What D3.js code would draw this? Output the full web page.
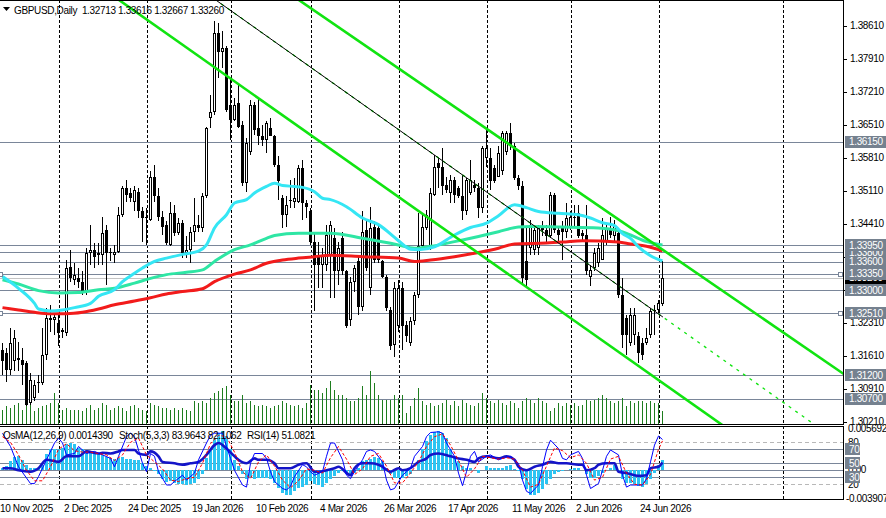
<!DOCTYPE html>
<html>
<head>
<meta charset="utf-8">
<script src="https://cdn.jsdelivr.net/npm/d3@7/dist/d3.min.js"></script>
<style>
html, body { margin: 0; padding: 0; background: #fff; }
svg { display: block; font-family: "Liberation Sans", Arial, sans-serif; font-size: 10px; letter-spacing: -0.35px; }
</style>
</head>
<body>
<svg id="chart" width="886" height="518"></svg>
<script>
// ---------------- data (daily GBPUSD bars, index 0 = 10 Nov 2025) ----------------
const openP = [1.3173,1.3166,1.3131,1.3149,1.3156,1.3152,1.3145,1.3060,1.3071,1.3103,1.3103,1.3163,1.3241,1.3237,1.3230,1.3216,1.3209,1.3350,1.3322,1.3325,
1.3318,1.3297,1.3379,1.3386,1.3375,1.3375,1.3428,1.3379,1.3375,1.3382,1.3460,1.3516,1.3506,1.3488,1.3509,1.3467,1.3453,1.3449,1.3541,1.3499,
1.3456,1.3439,1.3396,1.3463,1.3421,1.3442,1.3379,1.3386,1.3424,1.3439,1.3432,1.3499,1.3665,1.3679,1.3845,1.3806,1.3813,1.3693,1.3661,1.3697,
1.3651,1.3527,1.3594,1.3693,1.3644,1.3626,1.3619,1.3644,1.3626,1.3566,1.3495,1.3460,1.3490,1.3488,1.3488,1.3559,1.3485,1.3467,1.3403,1.3375,
1.3354,1.3354,1.3375,1.3410,1.3340,1.3410,1.3340,1.3237,1.3318,1.3361,1.3265,1.3428,1.3304,1.3435,1.3432,1.3361,1.3329,1.3258,1.3184,1.3223,
1.3304,1.3226,1.3188,1.3234,1.3290,1.3393,1.3432,1.3389,1.3502,1.3569,1.3562,1.3523,1.3506,1.3534,1.3516,1.3499,1.3467,1.3506,1.3523,1.3516,
1.3474,1.3580,1.3580,1.3559,1.3541,1.3552,1.3594,1.3633,1.3605,1.3538,1.3520,1.3361,1.3389,1.3386,1.3389,1.3428,1.3428,1.3414,1.3502,1.3428,
1.3432,1.3424,1.3432,1.3453,1.3463,1.3421,1.3417,1.3329,1.3347,1.3357,1.3364,1.3403,1.3432,1.3414,1.3421,1.3290,1.3241,1.3188,1.3205,1.3202,
1.3188,1.3188,1.3205,1.3255,1.3258,1.32713];
const highP = [1.3188,1.3177,1.3219,1.3216,1.3191,1.3177,1.3149,1.3124,1.3110,1.3120,1.3219,1.3262,1.3269,1.3251,1.3248,1.3219,1.3364,1.3386,1.3357,1.3347,
1.3340,1.3389,1.3439,1.3400,1.3400,1.3456,1.3439,1.3389,1.3396,1.3477,1.3520,1.3534,1.3516,1.3520,1.3516,1.3477,1.3474,1.3552,1.3566,1.3516,
1.3467,1.3446,1.3488,1.3481,1.3453,1.3449,1.3414,1.3435,1.3495,1.3460,1.3506,1.3647,1.3714,1.3870,1.3866,1.3849,1.3817,1.3750,1.3707,1.3736,
1.3658,1.3622,1.3704,1.3700,1.3707,1.3651,1.3658,1.3665,1.3629,1.3584,1.3502,1.3499,1.3534,1.3538,1.3566,1.3576,1.3492,1.3474,1.3424,1.3403,
1.3389,1.3439,1.3446,1.3432,1.3403,1.3424,1.3343,1.3329,1.3354,1.3375,1.3467,1.3446,1.3477,1.3446,1.3442,1.3364,1.3333,1.3265,1.3318,1.3322,
1.3318,1.3234,1.3244,1.3297,1.3463,1.3463,1.3470,1.3516,1.3587,1.3580,1.3601,1.3541,1.3545,1.3541,1.3520,1.3545,1.3538,1.3576,1.3534,1.3527,
1.3605,1.3640,1.3601,1.3566,1.3605,1.3637,1.3637,1.3654,1.3612,1.3545,1.3531,1.3435,1.3449,1.3439,1.3439,1.3446,1.3439,1.3509,1.3506,1.3435,
1.3446,1.3485,1.3467,1.3481,1.3481,1.3428,1.3481,1.3354,1.3389,1.3400,1.3453,1.3442,1.3456,1.3449,1.3432,1.3325,1.3248,1.3262,1.3262,1.3212,
1.3198,1.3219,1.3262,1.3269,1.3279,1.33616];
const lowP = [1.3120,1.3106,1.3120,1.3128,1.3128,1.3099,1.3055,1.3057,1.3064,1.3082,1.3099,1.3152,1.3212,1.3205,1.3181,1.3198,1.3202,1.3318,1.3311,1.3304,
1.3290,1.3290,1.3354,1.3347,1.3354,1.3354,1.3311,1.3361,1.3357,1.3379,1.3456,1.3488,1.3488,1.3467,1.3453,1.3403,1.3396,1.3446,1.3488,1.3446,
1.3417,1.3396,1.3393,1.3414,1.3417,1.3368,1.3368,1.3357,1.3403,1.3424,1.3424,1.3495,1.3644,1.3672,1.3750,1.3771,1.3679,1.3619,1.3658,1.3644,
1.3520,1.3509,1.3587,1.3629,1.3608,1.3605,1.3591,1.3626,1.3562,1.3492,1.3432,1.3435,1.3474,1.3474,1.3485,1.3449,1.3453,1.3396,1.3255,1.3304,
1.3304,1.3340,1.3283,1.3283,1.3311,1.3333,1.3219,1.3223,1.3297,1.3248,1.3255,1.3340,1.3290,1.3357,1.3357,1.3325,1.3255,1.3173,1.3159,1.3212,
1.3173,1.3191,1.3181,1.3226,1.3283,1.3386,1.3428,1.3386,1.3499,1.3516,1.3502,1.3506,1.3485,1.3485,1.3495,1.3449,1.3460,1.3502,1.3509,1.3453,
1.3463,1.3562,1.3513,1.3527,1.3541,1.3545,1.3587,1.3598,1.3534,1.3513,1.3311,1.3304,1.3375,1.3375,1.3375,1.3414,1.3400,1.3410,1.3421,1.3403,
1.3364,1.3410,1.3428,1.3432,1.3410,1.3403,1.3333,1.3308,1.3340,1.3350,1.3364,1.3396,1.3410,1.3403,1.3283,1.3177,1.3163,1.3181,1.3184,1.3145,
1.3152,1.3184,1.3198,1.3205,1.3251,1.32667];
const closeP = [1.3149,1.3131,1.3188,1.3198,1.3152,1.3142,1.3057,1.3110,1.3099,1.3106,1.3163,1.3241,1.3237,1.3244,1.3209,1.3212,1.3347,1.3325,1.3333,1.3318,
1.3297,1.3379,1.3386,1.3371,1.3379,1.3421,1.3379,1.3382,1.3382,1.3460,1.3516,1.3502,1.3495,1.3513,1.3467,1.3453,1.3456,1.3541,1.3499,1.3456,
1.3435,1.3400,1.3463,1.3421,1.3442,1.3379,1.3386,1.3424,1.3439,1.3432,1.3499,1.3644,1.3679,1.3845,1.3806,1.3813,1.3683,1.3661,1.3693,1.3647,
1.3527,1.3612,1.3693,1.3640,1.3626,1.3619,1.3654,1.3626,1.3566,1.3531,1.3460,1.3481,1.3492,1.3495,1.3559,1.3485,1.3477,1.3403,1.3354,1.3354,
1.3375,1.3417,1.3439,1.3340,1.3389,1.3340,1.3223,1.3318,1.3347,1.3265,1.3424,1.3347,1.3432,1.3364,1.3364,1.3329,1.3262,1.3181,1.3304,1.3304,
1.3223,1.3202,1.3234,1.3290,1.3393,1.3435,1.3460,1.3506,1.3562,1.3559,1.3520,1.3513,1.3534,1.3502,1.3499,1.3467,1.3534,1.3534,1.3516,1.3474,
1.3601,1.3601,1.3531,1.3531,1.3591,1.3633,1.3633,1.3605,1.3538,1.3520,1.3325,1.3322,1.3439,1.3428,1.3432,1.3432,1.3414,1.3502,1.3428,1.3417,
1.3424,1.3453,1.3456,1.3456,1.3414,1.3414,1.3340,1.3343,1.3379,1.3389,1.3417,1.3432,1.3417,1.3439,1.3290,1.3205,1.3205,1.3248,1.3248,1.3166,
1.3163,1.3198,1.3255,1.3258,1.3272,1.33260];
const volume = [56,72,64,76,84,56,92,76,52,64,72,76,84,124,84,56,64,56,56,56,
52,64,76,56,64,84,76,56,64,72,64,52,72,76,64,56,52,84,76,72,
64,64,56,64,56,64,56,52,92,84,92,84,104,124,132,144,152,116,92,92,
116,84,92,76,72,76,72,64,72,76,92,84,76,72,76,64,84,156,136,136,
124,144,172,136,116,116,104,92,92,104,152,116,212,164,116,96,96,96,116,104,
116,44,72,104,144,92,76,84,72,76,84,96,76,92,72,96,84,76,72,84,
124,104,92,84,96,84,76,92,84,64,92,104,96,84,104,92,84,52,64,84,
72,84,76,84,72,76,96,92,96,104,116,104,92,84,92,104,72,92,84,92,
92,84,92,84,84,52];

// moving averages, read at [bar, price]
const maFast = [[0,1.3329],[4,1.3304],[8,1.3272],[9,1.3260],[12,1.3256],[15,1.3258],[18,1.3263],[22,1.3272],[24,1.3287],[28,1.3301],[30,1.3318],[33,1.3336],[35,1.3347],[38,1.3361],[41,1.3368],[45,1.3376],[49,1.3383],[51,1.3396],[53,1.3432],[56,1.3460],[58,1.3485],[61,1.3492],[63,1.3506],[66,1.3520],[68,1.3527],[70,1.3522],[73,1.3520],[75,1.3518],[78,1.3509],[80,1.3495],[82,1.3492],[86,1.3477],[90,1.3453],[94,1.3439],[99,1.3405],[102,1.3387],[104,1.3386],[108,1.3392],[113,1.3417],[117,1.3433],[121,1.3442],[124,1.3458],[128,1.3481],[131,1.3475],[134,1.3467],[139,1.3463],[144,1.3460],[147,1.3453],[150,1.3443],[153,1.3437],[155,1.3420],[157,1.3410],[159,1.3392],[162,1.3373],[165,1.3362]];
const maMid = [[0,1.3322],[4,1.3313],[9,1.3299],[14,1.3294],[19,1.3295],[24,1.3301],[28,1.3304],[33,1.3315],[37,1.3325],[41,1.3333],[46,1.3338],[50,1.3343],[53,1.3361],[58,1.3386],[62,1.3396],[66,1.3410],[68,1.3416],[74,1.3421],[78,1.3421],[82,1.3421],[90,1.3410],[99,1.3396],[103,1.3389],[107,1.3393],[113,1.3403],[119,1.3414],[124,1.3424],[129,1.3434],[132,1.3435],[140,1.3434],[149,1.3432],[154,1.3426],[157,1.3417],[161,1.3403],[165,1.3396]];
const maSlow = [[0,1.3263],[4,1.3258],[8,1.3253],[12,1.3250],[16,1.3250],[20,1.3253],[24,1.3260],[28,1.3269],[33,1.3277],[37,1.3284],[41,1.3292],[45,1.3297],[50,1.3303],[53,1.3318],[58,1.3334],[62,1.3343],[66,1.3357],[70,1.3364],[74,1.3368],[78,1.3371],[82,1.3374],[90,1.3371],[99,1.3368],[103,1.3361],[107,1.3364],[113,1.3371],[119,1.3380],[124,1.3389],[128,1.3398],[136,1.3400],[140,1.3402],[145,1.3405],[154,1.3402],[157,1.3398],[161,1.3393],[165,1.3383]];

// channel lines, two anchors each as [bar, price]
const channelUpper = [[81.9,1.3870],[166.9,1.3375]];
const channelLower = [[34.4,1.3884],[166.9,1.3092]];
const trendMid = [[56.9,1.3894],[165.1,1.3243]];

// horizontal levels
const levels = [1.36150,1.33950,1.33800,1.33600,1.33350,1.33000,1.32510,1.31200,1.30700];
const levelLabelOrder = [1.36150,1.33800,1.33950,1.33600,1.33350,1.33000,1.32510,1.31200,1.30700];
const markedLevels = [1.33350,1.32510];
const bid = 1.33260;
const priceTicks = [1.38610,1.37910,1.37210,1.36510,1.35810,1.35110,1.34410,1.33710,1.33010,1.32310,1.31610,1.30910,1.30210];

// time axis
const dateBars = [0,16,32,48,64,80,96,112,128,144,160];
const dateText = ["10 Nov 2025","2 Dec 2025","24 Dec 2025","19 Jan 2026","10 Feb 2026","4 Mar 2026","26 Mar 2026","17 Apr 2026","11 May 2026","2 Jun 2026","24 Jun 2026"];
const gridBars = [14,36,57,77,99,121,142,164,195];

// oscillators
const osma = [0.00027,0.0005,0.0012,0.0018,0.0019,0.0014,0.0006,0.0003,0.0003,0.0003,0.0007,0.0021,0.0028,0.0029,0.0028,0.0030,0.0035,0.0037,0.0035,0.0030,
0.0028,0.0027,0.0024,0.0023,0.0022,0.0020,0.0018,0.0016,0.0015,0.0016,0.0018,0.0015,0.0015,0.0014,0.0013,0.0010,0.0005,0.0003,-0.0002,-0.0006,
-0.0013,-0.0017,-0.0016,-0.0018,-0.0019,-0.0020,-0.0021,-0.0020,-0.0018,-0.0013,-0.0006,0.0016,0.0028,0.0042,0.0051,0.0053,0.0046,0.0028,0.0014,0.0005,
-0.0006,-0.0013,-0.0011,-0.0013,-0.0011,-0.0011,-0.0011,-0.0013,-0.0018,-0.0025,-0.0032,-0.0034,-0.0034,-0.0029,-0.0025,-0.0023,-0.0021,-0.0016,-0.0020,-0.0021,
-0.0023,-0.0018,-0.0013,-0.0009,-0.0004,-0.0002,-0.0006,-0.0009,-0.0004,0.0003,0.0012,0.0014,0.0015,0.0018,0.0016,0.0012,0.0003,-0.0006,-0.0011,-0.0011,
-0.0011,-0.0009,-0.0006,0.0000,0.0014,0.0028,0.0040,0.0048,0.0052,0.0053,0.0050,0.0043,0.0028,0.0019,0.0012,0.0005,0.0003,0.0003,0.0000,-0.0004,
0.0000,0.0005,0.0003,0.0003,0.0002,0.0003,0.0005,0.0006,0.0001,-0.0002,-0.0013,-0.0027,-0.0034,-0.0034,-0.0032,-0.0027,-0.0020,-0.0013,-0.0006,-0.0003,
-0.0002,0.0000,0.0001,0.0003,0.0002,0.0000,-0.0006,-0.0011,-0.0011,-0.0009,-0.0004,0.0000,0.0003,0.0006,-0.0002,-0.0013,-0.0018,-0.0018,-0.0020,-0.0022,
-0.0023,-0.0020,-0.0013,-0.0004,0.0007,0.0014];
const stochMain = [[0,93],[2,74],[4,45],[7,21],[8,21],[9,31],[11,55],[13,79],[14,86],[15,79],[16,62],[18,64],[19,74],[21,64],[23,67],[25,62],[27,57],[28,45],[29,60],[31,88],[32,93],[33,88],[34,69],[35,50],[36,38],[37,64],[38,60],[39,38],[41,19],[42,19],[43,24],[45,33],[46,26],[48,36],[49,55],[51,79],[52,90],[53,93],[55,93],[56,74],[57,57],[58,40],[60,19],[61,16],[62,50],[63,64],[65,64],[66,57],[67,38],[68,24],[70,14],[71,12],[72,17],[73,31],[75,48],[76,45],[77,38],[78,33],[80,38],[81,60],[82,79],[83,79],[85,55],[86,33],[87,28],[88,38],[90,55],[91,67],[92,69],[93,67],[95,52],[96,26],[97,12],[98,14],[100,33],[101,38],[102,43],[103,60],[105,74],[106,88],[107,94],[109,95],[110,93],[111,79],[113,60],[114,36],[115,18],[116,38],[117,60],[118,67],[119,52],[121,60],[122,62],[124,55],[125,57],[127,60],[129,50],[130,26],[131,10],[132,7],[134,19],[135,45],[136,69],[137,83],[139,71],[140,57],[141,55],[142,62],[144,67],[145,57],[146,33],[147,14],[149,21],[150,40],[151,60],[152,69],[154,62],[155,33],[156,16],[157,19],[159,19],[160,19],[161,28],[162,52],[163,76],[164,89],[165,84]];
const stochSignal = [[0,88],[2,80],[4,62],[6,40],[8,25],[10,25],[12,45],[14,70],[16,78],[18,68],[20,66],[22,66],[24,64],[26,62],[28,54],[30,62],[32,80],[34,86],[36,62],[38,52],[40,42],[42,26],[44,24],[46,28],[48,30],[50,50],[52,78],[54,90],[56,88],[58,66],[60,38],[62,28],[64,52],[66,62],[68,46],[70,26],[72,15],[74,25],[76,42],[78,40],[80,36],[82,58],[84,74],[86,56],[88,34],[90,42],[92,60],[94,64],[96,46],[98,22],[100,22],[102,36],[104,52],[106,74],[108,88],[110,92],[112,76],[114,54],[116,30],[118,42],[120,60],[122,58],[124,56],[126,58],[128,56],[130,40],[132,16],[134,20],[136,46],[138,72],[140,68],[142,58],[144,62],[146,50],[148,26],[150,30],[152,56],[154,60],[156,36],[158,20],[160,19],[162,34],[164,70],[165,82]];
const rsi = [[0,43],[2,43],[4,40],[7,38],[9,43],[11,55],[14,52],[16,60],[19,60],[21,67],[24,64],[25,65],[27,64],[29,67],[30,69],[33,69],[34,64],[36,62],[37,67],[39,60],[40,52],[43,50],[45,48],[47,50],[49,52],[51,62],[53,76],[54,79],[56,71],[58,60],[59,55],[61,50],[63,57],[64,55],[66,55],[68,50],[69,43],[72,43],[74,48],[76,50],[78,38],[79,38],[81,40],[83,43],[84,45],[87,33],[88,43],[90,50],[92,50],[94,48],[95,45],[97,38],[99,43],[100,40],[102,43],[104,52],[106,57],[107,62],[109,64],[112,60],[114,57],[116,55],[118,52],[119,57],[121,60],[124,57],[126,60],[128,55],[129,45],[131,40],[133,45],[135,48],[137,52],[139,50],[141,50],[144,48],[145,48],[146,40],[148,43],[149,48],[151,50],[153,50],[154,38],[156,36],[158,33],[159,32],[161,33],[162,43],[164,45],[165,51]];
const oscLevels = [80,70,50,30,20];

// ---------------- layout ----------------
const plotRight = 843;
const mainBottom = 424;
const subTop = 426, subBottom = 499;

const svg = d3.select("#chart");
const x = d3.scaleLinear().domain([0, 1]).range([2.5, 6.5]);
const y = d3.scaleLinear().domain([1.3021, 1.3861]).range([421.7, 25.7]);
const yVol = d3.scaleLinear().domain([0, 240]).range([mainBottom, mainBottom - 60]);
const yOsc = d3.scaleLinear().domain([0, 100]).range([498.3, 428.3]);
const yOsma = d3.scaleLinear().domain([-0.003907, 0.005692]).range([498.3, 428.3]);
const col = i => Math.floor(x(i));

const defs = svg.append("defs");
defs.append("clipPath").attr("id", "clipMain")
  .append("rect").attr("x", 0).attr("y", 0).attr("width", plotRight).attr("height", mainBottom);
defs.append("clipPath").attr("id", "clipSub")
  .append("rect").attr("x", 0).attr("y", subTop).attr("width", plotRight).attr("height", subBottom - subTop);

const main = svg.append("g").attr("clip-path", "url(#clipMain)");
const sub = svg.append("g").attr("clip-path", "url(#clipSub)");

// vertical grid
[[main, 0, mainBottom], [sub, subTop, subBottom]].forEach(([g, y0, y1]) => {
  g.selectAll(null).data(gridBars).join("line")
    .attr("x1", d => col(d) + 1.5).attr("x2", d => col(d) + 1.5)
    .attr("y1", y0).attr("y2", y1)
    .attr("stroke", "#000").attr("stroke-dasharray", "3,2");
});

// horizontal levels
main.selectAll(null).data(levels).join("line")
  .attr("x1", 0).attr("x2", plotRight)
  .attr("y1", d => Math.round(y(d)) + 0.5).attr("y2", d => Math.round(y(d)) + 0.5)
  .attr("stroke", "#7a8699");
main.append("line")
  .attr("x1", 0).attr("x2", plotRight)
  .attr("y1", Math.round(y(bid)) + 0.5).attr("y2", Math.round(y(bid)) + 0.5)
  .attr("stroke", "#c4c4c4");

// volumes
main.append("g").attr("shape-rendering", "crispEdges")
  .selectAll("rect").data(volume).join("rect")
  .attr("x", (d, i) => col(i)).attr("width", 1)
  .attr("y", d => yVol(d)).attr("height", d => mainBottom - yVol(d))
  .attr("fill", "#1e7d1e");

// candles
const bars = openP.map((o, i) => ({ i, o, h: highP[i], l: lowP[i], c: closeP[i] }));
const cg = main.append("g").attr("shape-rendering", "crispEdges");
bars.forEach(b => {
  const cx = col(b.i);
  const yh = Math.round(y(b.h)), yl = Math.round(y(b.l));
  const top = Math.round(y(Math.max(b.o, b.c))), bot = Math.round(y(Math.min(b.o, b.c)));
  const bh = Math.max(1, bot - top);
  cg.append("rect").attr("x", cx).attr("y", yh).attr("width", 1).attr("height", Math.max(1, yl - yh)).attr("fill", "#000");
  cg.append("rect").attr("x", cx - 1).attr("y", top).attr("width", 3).attr("height", bh).attr("fill", "#000");
  if (b.c > b.o && bh > 2) {
    cg.append("rect").attr("x", cx).attr("y", top + 1).attr("width", 1).attr("height", bh - 2).attr("fill", "#fff");
  }
});

// moving averages
const maLine = d3.line().x(d => x(d[0])).y(d => y(d[1])).curve(d3.curveMonotoneX);
[[maSlow, "#f21b1b"], [maMid, "#2ee6a4"], [maFast, "#35e6f4"]].forEach(([d, c]) => {
  main.append("path").datum(d).attr("d", maLine)
    .attr("fill", "none").attr("stroke", c).attr("stroke-width", 3).attr("stroke-linejoin", "round");
});

// channel / trend lines extended across the window
function extend(a, from, to) {
  const k = (a[1][1] - a[0][1]) / (a[1][0] - a[0][0]);
  return [[from, a[0][1] + k * (from - a[0][0])], [to, a[0][1] + k * (to - a[0][0])]];
}
const straight = d3.line().x(d => x(d[0])).y(d => y(d[1]));
[channelUpper, channelLower].forEach(a => {
  main.append("path").datum(extend(a, -40, 240)).attr("d", straight)
    .attr("fill", "none").attr("stroke", "#11e411").attr("stroke-width", 2.6);
});
main.append("path").datum(extend(trendMid, -40, 240)).attr("d", straight)
  .attr("fill", "none").attr("stroke", "#11e411").attr("stroke-width", 1.3).attr("stroke-dasharray", "3,5");
main.append("path").datum(extend(trendMid, -40, trendMid[1][0])).attr("d", straight)
  .attr("fill", "none").attr("stroke", "#000").attr("stroke-width", 1);

// level end markers
markedLevels.forEach(v => {
  [-2, plotRight - 5].forEach(px => {
    main.append("rect").attr("x", px + 0.5).attr("y", Math.round(y(v)) - 2 + 0.5)
      .attr("width", 4).attr("height", 4).attr("fill", "#fff").attr("stroke", "#7a8699");
  });
});

// ---------------- sub window ----------------
oscLevels.forEach(v => {
  const dashed = v === 80 || v === 20;
  sub.append("line").attr("x1", 0).attr("x2", plotRight)
    .attr("y1", Math.round(yOsc(v)) + 0.5).attr("y2", Math.round(yOsc(v)) + 0.5)
    .attr("stroke", dashed ? "#b8b8b8" : "#7a8699")
    .attr("stroke-dasharray", dashed ? "4,3" : null);
});
sub.append("line").attr("x1", 0).attr("x2", plotRight)
  .attr("y1", Math.round(yOsma(0)) + 0.5).attr("y2", Math.round(yOsma(0)) + 0.5)
  .attr("stroke", "#7a8699");

sub.append("g").attr("shape-rendering", "crispEdges")
  .selectAll("rect").data(osma).join("rect")
  .attr("x", (d, i) => col(i) - 1).attr("width", 3)
  .attr("y", d => Math.min(yOsma(d), yOsma(0)))
  .attr("height", d => Math.abs(yOsma(d) - yOsma(0)))
  .attr("fill", "#2cc4f2");

const oscLine = d3.line().x(d => x(d[0])).y(d => yOsc(d[1]));
sub.append("path").datum(rsi).attr("d", oscLine.curve(d3.curveMonotoneX))
  .attr("fill", "none").attr("stroke", "#1414c8").attr("stroke-width", 2.6);
sub.append("path").datum(stochMain).attr("d", oscLine.curve(d3.curveLinear))
  .attr("fill", "none").attr("stroke", "#0000ff").attr("stroke-width", 1);
sub.append("path").datum(stochSignal).attr("d", oscLine.curve(d3.curveLinear))
  .attr("fill", "none").attr("stroke", "#ff0000").attr("stroke-width", 1).attr("stroke-dasharray", "3,2");

// ---------------- frames ----------------
const frame = svg.append("g").attr("stroke", "#000").attr("shape-rendering", "crispEdges");
frame.append("line").attr("x1", 0).attr("x2", plotRight).attr("y1", 0.5).attr("y2", 0.5);
frame.append("line").attr("x1", plotRight + 0.5).attr("x2", plotRight + 0.5).attr("y1", 0).attr("y2", mainBottom + 1);
frame.append("line").attr("x1", 0).attr("x2", plotRight + 1).attr("y1", mainBottom + 0.5).attr("y2", mainBottom + 0.5);
frame.append("line").attr("x1", 0).attr("x2", plotRight + 1).attr("y1", subTop + 0.5).attr("y2", subTop + 0.5);
frame.append("line").attr("x1", plotRight + 0.5).attr("x2", plotRight + 0.5).attr("y1", subTop).attr("y2", subBottom + 1);
frame.append("line").attr("x1", 0).attr("x2", plotRight + 1).attr("y1", subBottom + 0.5).attr("y2", subBottom + 0.5);

// ---------------- price axis ----------------
const axis = svg.append("g");
axis.selectAll("line").data(priceTicks).join("line")
  .attr("x1", plotRight).attr("x2", plotRight + 4)
  .attr("y1", d => Math.round(y(d)) + 0.5).attr("y2", d => Math.round(y(d)) + 0.5)
  .attr("stroke", "#000");
axis.selectAll("text").data(priceTicks).join("text")
  .attr("x", 850).attr("y", d => y(d)).attr("dy", "0.35em")
  .attr("fill", "#000").text(d => d.toFixed(5));

function tag(g, x0, yc, w, txt, fill) {
  g.append("rect").attr("x", x0).attr("y", Math.round(yc) - 6).attr("width", w).attr("height", 12).attr("fill", fill);
  g.append("text").attr("x", x0 + 4).attr("y", yc).attr("dy", "0.35em").attr("fill", "#fff").text(txt);
}
tag(axis, 845, y(bid), 41, bid.toFixed(5), "#000");
levelLabelOrder.forEach(v => tag(axis, 845, y(v), 41, v.toFixed(5), "#75818f"));

// sub window scale
const subAxis = svg.append("g");
[["0.005692", 0.005692], ["0.00", 0], ["-0.003907", -0.003907]].forEach(([t, v]) => {
  subAxis.append("text").attr("x", t[0] === "-" ? 846 : 848).attr("y", yOsma(v)).attr("dy", "0.35em")
    .attr("fill", "#000").text(t);
});
[80, 20].forEach(v => {
  subAxis.append("text").attr("x", 848).attr("y", yOsc(v)).attr("dy", "0.35em").attr("fill", "#000").text(v);
});
[70, 50, 30].forEach(v => tag(subAxis, 845, yOsc(v), 15, String(v), "#75818f"));

// ---------------- time axis ----------------
svg.append("g").selectAll("text").data(dateBars).join("text")
  .attr("x", d => col(d) - 2).attr("y", 512)
  .attr("fill", "#000").text((d, i) => dateText[i]);

// ---------------- captions ----------------
svg.append("path").attr("d", "M3,7 L10,7 L6.5,11 Z").attr("fill", "#000");
svg.append("text").attr("x", 14).attr("y", 14).attr("fill", "#000")
  .text("GBPUSD,Daily  1.32713 1.33616 1.32667 1.33260").attr("xml:space", "preserve").style("white-space", "pre");
const cap = svg.append("g").style("white-space", "pre");
cap.append("text").attr("x", 3).attr("y", 439).text("OsMA(12,26,9) 0.0014390");
cap.append("text").attr("x", 119).attr("y", 439).text("Stoch(5,3,3) 83.9643 82.1062");
cap.append("text").attr("x", 247).attr("y", 439).text("RSI(14) 51.0821");
</script>
</body>
</html>
